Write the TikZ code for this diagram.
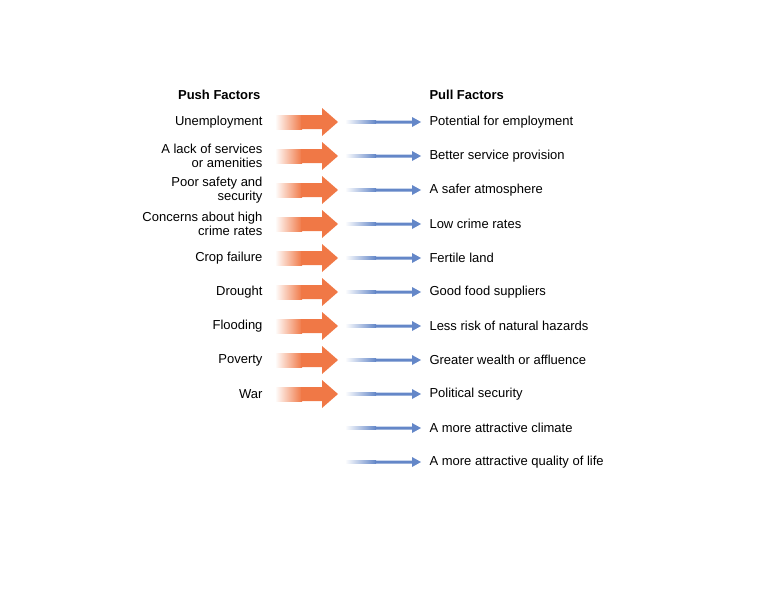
\documentclass[tikz,border=0pt]{standalone}
\usepackage{fontspec}
\setmainfont{Liberation Sans}
\usepackage{tikz}
\definecolor{pushorange}{RGB}{240,120,70}
\definecolor{pullblue}{RGB}{100,135,200}
\begin{document}
\begin{tikzpicture}[x=1pt,y=-1pt,
  push/.style={anchor=east,align=right,font=\fontsize{13}{14}\selectfont},
  pull/.style={anchor=west,font=\fontsize{13}{14}\selectfont},
  head/.style={font=\bfseries\fontsize{13}{14}\selectfont}]
  \useasboundingbox (0,0) rectangle (768,594);
  \node [head,anchor=east] (pushhead) at (264,95) {Push Factors};
  \node [head,anchor=west] (pullhead) at (426,95) {Pull Factors};
  % push arrows and labels
  \foreach \lbl [count=\i] in {Unemployment,{A lack of services\\ or amenities},
      {Poor safety and\\ security},{Concerns about high\\ crime rates},
      Crop failure,Drought,Flooding,Poverty,War} {
    \pgfmathsetmacro\yy{122+34*(\i-1)}
    \node [push] (push\i) at (266,\yy) {\lbl};
    \shade [left color=white,right color=pushorange]
      (275,\yy-7) rectangle (302,\yy+7);
    \fill [pushorange] (301,\yy-7) -- (322,\yy-7) -- (322,\yy-14)
      -- (338,\yy) -- (322,\yy+14) -- (322,\yy+7) -- (301,\yy+7) -- cycle;
  }
  % pull arrows and labels
  \foreach \lbl [count=\i] in {Potential for employment,Better service provision,
      A safer atmosphere,Low crime rates,Fertile land,Good food suppliers,
      Less risk of natural hazards,Greater wealth or affluence,Political security,
      A more attractive climate,A more attractive quality of life} {
    \pgfmathsetmacro\yy{122+34*(\i-1)}
    \node [pull] (pull\i) at (426,\yy) {\lbl};
    \shade [left color=white,right color=pullblue]
      (345,\yy-1.5) rectangle (376,\yy+1.5);
    \fill [pullblue] (375,\yy-1.5) -- (412,\yy-1.5) -- (412,\yy-5)
      -- (421,\yy) -- (412,\yy+5) -- (412,\yy+1.5) -- (375,\yy+1.5) -- cycle;
  }
\end{tikzpicture}
\end{document}
